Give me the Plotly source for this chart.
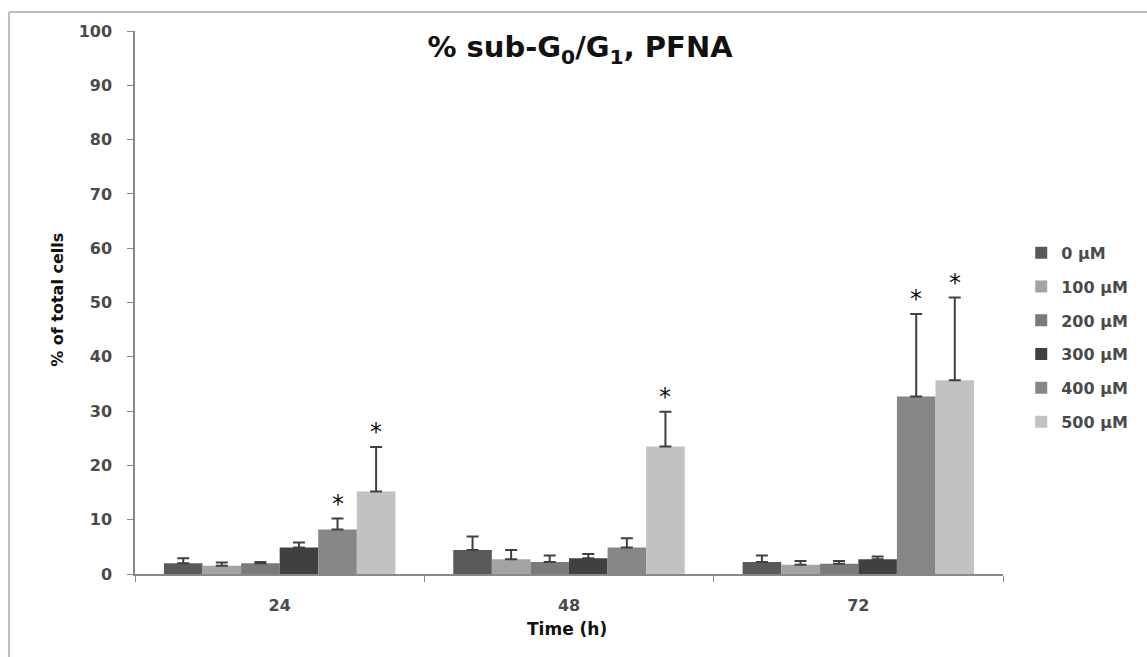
import plotly.graph_objects as go

times = ["24", "48", "72"]
doses = ["0 µM", "100 µM", "200 µM", "300 µM", "400 µM", "500 µM"]
means = {
    "0 µM":   [2.0, 4.4, 2.2],
    "100 µM": [1.5, 2.7, 1.7],
    "200 µM": [2.0, 2.2, 1.9],
    "300 µM": [4.9, 2.9, 2.7],
    "400 µM": [8.2, 4.9, 32.7],
    "500 µM": [15.2, 23.5, 35.7],
}
errors = {
    "0 µM":   [0.9, 2.5, 1.2],
    "100 µM": [0.6, 1.7, 0.7],
    "200 µM": [0.2, 1.2, 0.5],
    "300 µM": [0.9, 0.8, 0.5],
    "400 µM": [2.0, 1.7, 15.2],
    "500 µM": [8.2, 6.4, 15.2],
}
significant = {
    "0 µM":   [False, False, False],
    "100 µM": [False, False, False],
    "200 µM": [False, False, False],
    "300 µM": [False, False, False],
    "400 µM": [True, False, True],
    "500 µM": [True, True, True],
}
colors = ["#595959", "#a3a3a3", "#7a7a7a", "#404040", "#868686", "#c2c2c2"]

tick_font = dict(family="DejaVu Sans", size=16, color="#4a4a4a", weight="bold")
legend_font = dict(family="DejaVu Sans", size=16, color="#4a4a4a", weight="bold")
bold_font = "DejaVu Sans"

fig = go.Figure()
for j, d in enumerate(doses):
    fig.add_trace(go.Bar(
        name=d, x=times, y=means[d], marker=dict(color=colors[j], line=dict(width=0)),
        error_y=dict(type="data", array=errors[d], arrayminus=[0] * len(times), symmetric=False,
                     color="#404040", thickness=2, width=6),
        legendgroup=d,
    ))

annotations = []
group_width = 0.8
n = len(doses)
for j, d in enumerate(doses):
    for i, t in enumerate(times):
        if significant[d][i]:
            xpos = i - group_width / 2 + group_width * (j + 0.5) / n
            annotations.append(dict(
                x=xpos, y=means[d][i] + errors[d][i], xref="x", yref="y",
                text="*", showarrow=False, yanchor="bottom", yshift=-1,
                font=dict(family="DejaVu Sans", size=24, color="#111111"),
            ))

annotations.append(dict(
    x=-0.0887, y=0.505, xref="paper", yref="paper", text="<b>% of total cells</b>",
    textangle=-90, showarrow=False, xanchor="center", yanchor="middle",
    font=dict(family=bold_font, size=16, color="#111111"),
))
annotations.append(dict(
    x=0.4977, y=-0.101, xref="paper", yref="paper", text="<b>Time (h)</b>",
    showarrow=False, xanchor="center", yanchor="middle",
    font=dict(family=bold_font, size=17, color="#111111"),
))

shapes = [
    dict(type="line", xref="paper", yref="paper", x0=-0.1452, x1=-0.1452, y0=1.035, y1=-0.2,
         line=dict(color="#bdbdbd", width=2)),
    dict(type="line", xref="paper", yref="paper", x0=-0.1452, x1=1.2, y0=1.035, y1=1.035,
         line=dict(color="#bdbdbd", width=2)),
]

fig.update_layout(
    width=1147, height=657,
    margin=dict(l=135, r=144, t=31, b=83),
    paper_bgcolor="white", plot_bgcolor="white",
    barmode="group", bargap=0.2, bargroupgap=0,
    title=dict(text="<b>% sub-G<sub>0</sub>/G<sub>1</sub>, PFNA</b>", x=0.5057, y=0.928,
               xanchor="center", yanchor="middle",
               font=dict(family=bold_font, size=29, color="#111111")),
    xaxis=dict(type="category", showline=True, linecolor="#888888", linewidth=1.5,
               ticks="outside", tickson="boundaries", ticklen=6, tickcolor="#888888",
               tickfont=tick_font, ticklabelstandoff=16, showgrid=False, zeroline=False),
    yaxis=dict(range=[0, 100], dtick=10, showline=True, linecolor="#888888", linewidth=1.5,
               ticks="outside", ticklen=6, tickcolor="#888888", tickfont=tick_font,
               ticklabelstandoff=12, showgrid=False, zeroline=False),
    legend=dict(x=1.021, y=0.436, xanchor="left", yanchor="middle", font=legend_font,
                tracegroupgap=10, itemwidth=30, bgcolor="rgba(0,0,0,0)"),
    annotations=annotations,
    shapes=shapes,
)

fig.write_html("out.html")
